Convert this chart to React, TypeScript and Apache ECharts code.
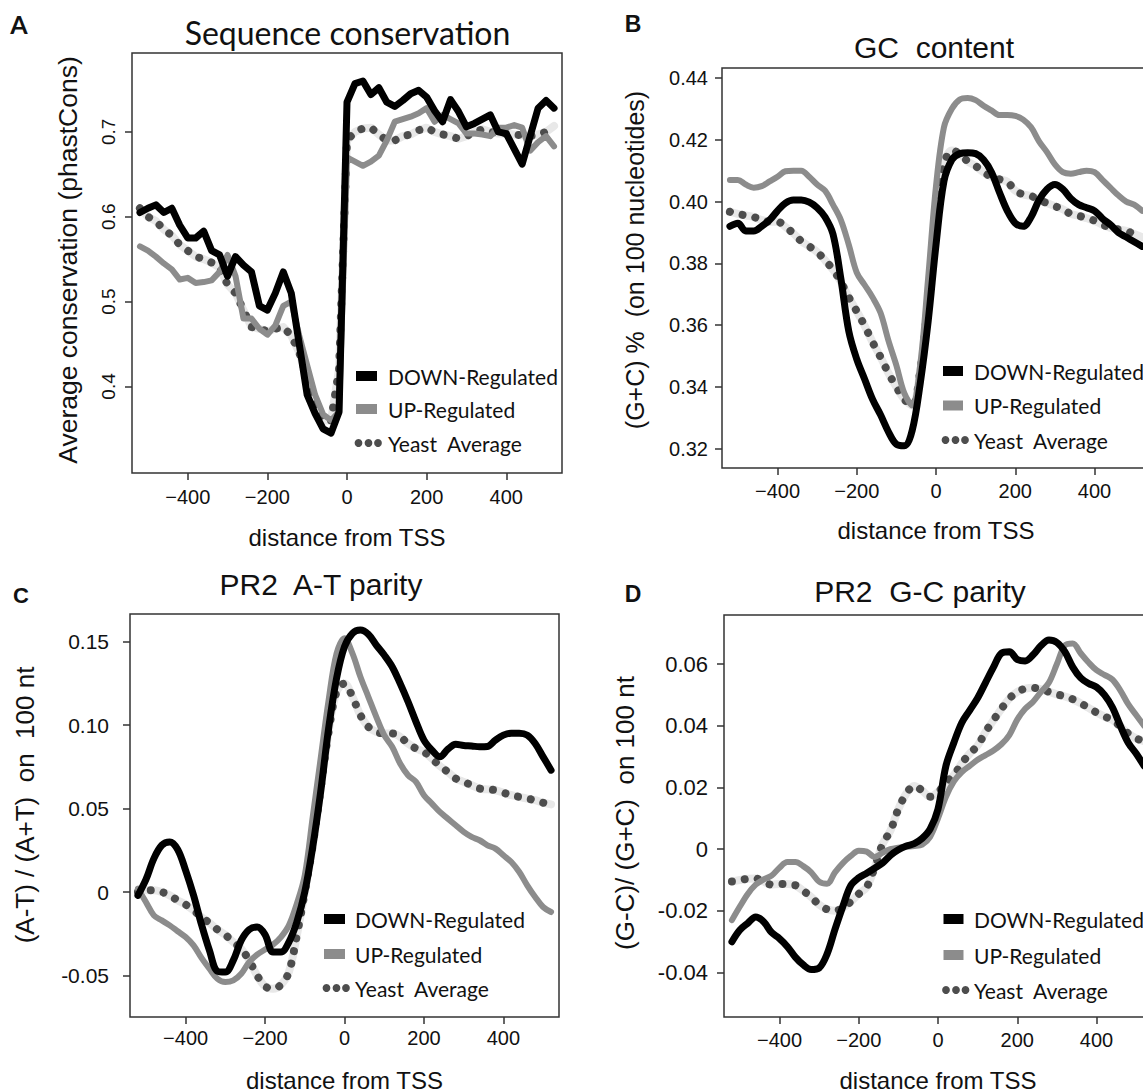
import React, { useEffect, useRef } from "react";
import * as echarts from "echarts";

// distance from TSS (bp)
const X_POS = [-520, -500, -480, -460, -440, -420, -400, -380, -360, -340, -320, -300, -280, -260, -240, -220, -200, -180, -160, -140, -120, -100, -80, -60, -40, -20, 0, 20, 40, 60, 80, 100, 120, 140, 160, 180, 200, 220, 240, 260, 280, 300, 320, 340, 360, 380, 400, 420, 440, 460, 480, 500, 520];

// Panel A: sequence conservation (phastCons)
const DOWN_A = [0.605, 0.61, 0.614, 0.605, 0.61, 0.59, 0.575, 0.575, 0.583, 0.56, 0.555, 0.53, 0.553, 0.543, 0.535, 0.495, 0.49, 0.51, 0.535, 0.51, 0.45, 0.39, 0.368, 0.35, 0.345, 0.37, 0.735, 0.757, 0.76, 0.744, 0.752, 0.735, 0.73, 0.737, 0.745, 0.749, 0.741, 0.725, 0.712, 0.738, 0.724, 0.706, 0.71, 0.715, 0.72, 0.7, 0.698, 0.68, 0.662, 0.695, 0.728, 0.737, 0.728];
const UP_A = [0.565, 0.56, 0.553, 0.545, 0.538, 0.526, 0.528, 0.522, 0.523, 0.525, 0.535, 0.555, 0.53, 0.48, 0.48, 0.468, 0.461, 0.472, 0.495, 0.5, 0.46, 0.425, 0.39, 0.367, 0.36, 0.37, 0.67, 0.665, 0.66, 0.665, 0.672, 0.69, 0.712, 0.715, 0.718, 0.722, 0.728, 0.712, 0.72, 0.715, 0.71, 0.698, 0.698, 0.697, 0.695, 0.705, 0.705, 0.708, 0.705, 0.678, 0.688, 0.695, 0.683];
const YEAST_A = [0.61, 0.6, 0.595, 0.585, 0.578, 0.567, 0.56, 0.553, 0.55, 0.546, 0.54, 0.52, 0.51, 0.49, 0.47, 0.468, 0.465, 0.468, 0.47, 0.46, 0.44, 0.41, 0.38, 0.36, 0.36, 0.42, 0.69, 0.7, 0.704, 0.705, 0.697, 0.69, 0.69, 0.695, 0.697, 0.702, 0.705, 0.7, 0.697, 0.695, 0.692, 0.695, 0.7, 0.703, 0.7, 0.698, 0.698, 0.697, 0.696, 0.695, 0.697, 0.7, 0.707];

// Panel B: GC content
const DOWN_B = [0.392, 0.393, 0.3905, 0.3905, 0.392, 0.394, 0.397, 0.3995, 0.4005, 0.4005, 0.3998, 0.398, 0.395, 0.3895, 0.375, 0.358, 0.349, 0.3425, 0.336, 0.331, 0.3255, 0.3215, 0.321, 0.326, 0.341, 0.361, 0.386, 0.4065, 0.4135, 0.4155, 0.4158, 0.4155, 0.4135, 0.4095, 0.403, 0.397, 0.393, 0.392, 0.395, 0.4005, 0.404, 0.4055, 0.404, 0.401, 0.399, 0.398, 0.397, 0.3945, 0.3925, 0.39, 0.3885, 0.387, 0.3855];
const UP_B = [0.407, 0.407, 0.4055, 0.4045, 0.405, 0.4065, 0.408, 0.4098, 0.41, 0.41, 0.408, 0.4055, 0.4035, 0.399, 0.394, 0.386, 0.377, 0.373, 0.369, 0.364, 0.355, 0.347, 0.338, 0.334, 0.347, 0.375, 0.405, 0.424, 0.43, 0.433, 0.4335, 0.4328, 0.431, 0.4295, 0.428, 0.428, 0.4277, 0.4265, 0.424, 0.4195, 0.416, 0.412, 0.4095, 0.409, 0.4095, 0.41, 0.4095, 0.407, 0.4045, 0.402, 0.4, 0.399, 0.397];
const YEAST_B = [0.3967, 0.396, 0.3955, 0.395, 0.394, 0.3935, 0.3935, 0.3918, 0.3897, 0.3872, 0.3855, 0.3837, 0.381, 0.378, 0.374, 0.369, 0.3645, 0.3598, 0.3545, 0.3497, 0.3445, 0.34, 0.336, 0.334, 0.345, 0.368, 0.395, 0.412, 0.4165, 0.4155, 0.413, 0.4115, 0.4095, 0.408, 0.4072, 0.4064, 0.4035, 0.4023, 0.4018, 0.4005, 0.3995, 0.3985, 0.3975, 0.396, 0.3954, 0.3946, 0.3938, 0.3925, 0.3915, 0.391, 0.3905, 0.3895, 0.3885];

// Panel C: PR2 A-T parity
const DOWN_C = [-0.002, 0.0074, 0.02, 0.028, 0.03, 0.0255, 0.013, -0.002, -0.0195, -0.035, -0.0475, -0.048, -0.041, -0.029, -0.0225, -0.021, -0.0255, -0.036, -0.036, -0.03, -0.018, 0.0, 0.027, 0.06, 0.098, 0.128, 0.147, 0.155, 0.157, 0.1545, 0.148, 0.142, 0.135, 0.125, 0.114, 0.102, 0.091, 0.085, 0.081, 0.0855, 0.0885, 0.0878, 0.0875, 0.087, 0.0872, 0.091, 0.094, 0.0952, 0.0952, 0.094, 0.089, 0.081, 0.073];
const UP_C = [0.002, -0.006, -0.014, -0.017, -0.02, -0.0235, -0.027, -0.032, -0.0395, -0.046, -0.052, -0.054, -0.053, -0.049, -0.042, -0.0375, -0.0345, -0.0315, -0.027, -0.02, -0.007, 0.01, 0.045, 0.08, 0.115, 0.143, 0.152, 0.143, 0.129, 0.117, 0.105, 0.094, 0.087, 0.077, 0.07, 0.066, 0.058, 0.053, 0.048, 0.044, 0.04, 0.036, 0.033, 0.031, 0.028, 0.026, 0.022, 0.018, 0.012, 0.004, -0.003, -0.009, -0.012];
const YEAST_C = [0.0, 0.001, 0.001, 0.0, -0.002, -0.005, -0.0075, -0.011, -0.015, -0.0185, -0.0225, -0.0257, -0.03, -0.034, -0.041, -0.05, -0.0565, -0.058, -0.0556, -0.048, -0.026, 0.0, 0.028, 0.062, 0.096, 0.12, 0.125, 0.117, 0.106, 0.099, 0.096, 0.095, 0.095, 0.093, 0.089, 0.086, 0.084, 0.08, 0.0755, 0.072, 0.068, 0.066, 0.064, 0.062, 0.0615, 0.061, 0.0595, 0.058, 0.057, 0.056, 0.055, 0.0535, 0.0525];

// Panel D: PR2 G-C parity
const DOWN_D = [-0.03, -0.0262, -0.024, -0.022, -0.0235, -0.027, -0.029, -0.0316, -0.035, -0.0375, -0.039, -0.0385, -0.034, -0.026, -0.0185, -0.0118, -0.0093, -0.0078, -0.0062, -0.0045, -0.002, -0.0002, 0.001, 0.0018, 0.0035, 0.0065, 0.013, 0.027, 0.0345, 0.041, 0.045, 0.049, 0.054, 0.059, 0.0635, 0.064, 0.0615, 0.061, 0.063, 0.066, 0.0678, 0.067, 0.064, 0.059, 0.0555, 0.0537, 0.0525, 0.05, 0.046, 0.04, 0.0345, 0.031, 0.027];
const UP_D = [-0.023, -0.0186, -0.0145, -0.0115, -0.0098, -0.0086, -0.006, -0.0042, -0.0042, -0.0055, -0.0075, -0.0105, -0.0112, -0.0075, -0.0045, -0.0022, -0.0005, -0.0008, -0.0025, -0.0012, 0.0, 0.0005, 0.0008, 0.001, 0.0015, 0.004, 0.01, 0.017, 0.022, 0.025, 0.027, 0.029, 0.0305, 0.032, 0.034, 0.037, 0.042, 0.0455, 0.0478, 0.051, 0.054, 0.06, 0.066, 0.0667, 0.0635, 0.0605, 0.058, 0.0565, 0.055, 0.0515, 0.047, 0.0435, 0.04];
const YEAST_D = [-0.0105, -0.01, -0.0096, -0.0095, -0.0105, -0.0115, -0.0113, -0.0113, -0.0117, -0.0135, -0.0155, -0.018, -0.0195, -0.02, -0.019, -0.017, -0.0145, -0.0123, -0.006, 0.0016, 0.006, 0.013, 0.018, 0.0205, 0.019, 0.017, 0.0185, 0.0215, 0.024, 0.0278, 0.031, 0.0336, 0.038, 0.0418, 0.0455, 0.0488, 0.051, 0.052, 0.0523, 0.0518, 0.051, 0.0502, 0.0495, 0.0486, 0.0473, 0.0458, 0.0443, 0.043, 0.0419, 0.0398, 0.0375, 0.0359, 0.035];

// Tick values and labels
const X_TICKS = [-400, -200, 0, 200, 400];
const Y_TICKS_A = [0.4, 0.5, 0.6, 0.7];
const Y_LABELS_A = ["0.4", "0.5", "0.6", "0.7"];
const Y_TICKS_B = [0.32, 0.34, 0.36, 0.38, 0.4, 0.42, 0.44];
const Y_LABELS_B = ["0.32", "0.34", "0.36", "0.38", "0.40", "0.42", "0.44"];
const Y_TICKS_C = [-0.05, 0, 0.05, 0.1, 0.15];
const Y_LABELS_C = ["-0.05", "0", "0.05", "0.10", "0.15"];
const Y_TICKS_D = [-0.04, -0.02, 0, 0.02, 0.04, 0.06];
const Y_LABELS_D = ["-0.04", "-0.02", "0", "0.02", "0.04", "0.06"];

const PANEL_LETTERS = ["A", "B", "C", "D"];
const PANEL_TITLES = ["Sequence conservation", "GC  content", "PR2  A-T parity", "PR2  G-C parity"];
const Y_NAMES = ["Average conservation (phastCons)", "(G+C) %  (on 100 nucleotides)", "(A-T) / (A+T)  on  100 nt", "(G-C)/ (G+C)  on 100 nt"];
const X_NAME = "distance from TSS";
const LEGEND_NAMES = ["DOWN-Regulated", "UP-Regulated", "Yeast  Average"];

const SANS = "'Liberation Sans', Arial, sans-serif";
const INK = "#111111";
const BLACK = "#000000";
const GREY = "#8c8c8c";
const DOTS = "#4d4d4d";
const BAND = "#e8e8e8";

const PANELS = [
  {
    down: DOWN_A, up: UP_A, yeast: YEAST_A, smooth: false,
    grid: { left: 132, top: 53, width: 430, height: 420 },
    yMin: 0.298, yMax: 0.793, yTicks: Y_TICKS_A, yLabels: Y_LABELS_A,
    yRotate: 90, yFont: 19, yMargin: 14,
    yName: { x: 68, y: 260, font: "26.5px 'Liberation Sans'" },
    xMargin: 14, xNameGap: 52,
    letter: { x: 19, y: 24, font: "bold 25px Lato" },
    title: { x: 347.5, y: 32, font: "32px Lato" },
    legend: { symX: 356, symW: 21, textX: 388, rows: [376, 409, 443] },
  },
  {
    down: DOWN_B, up: UP_B, yeast: YEAST_B, smooth: 0.35,
    grid: { left: 722, top: 68, width: 428, height: 400 },
    yMin: 0.3138, yMax: 0.4432, yTicks: Y_TICKS_B, yLabels: Y_LABELS_B,
    yRotate: 0, yFont: 20, yMargin: 14,
    yName: { x: 635, y: 260, font: "25px 'Liberation Sans'" },
    xMargin: 13, xNameGap: 50,
    letter: { x: 633, y: 24, font: "bold 23px 'Liberation Sans'" },
    title: { x: 934, y: 47.5, font: "30px 'Liberation Sans'" },
    legend: { symX: 943, symW: 20, textX: 974, rows: [371, 405.5, 440] },
  },
  {
    down: DOWN_C, up: UP_C, yeast: YEAST_C, smooth: 0.35,
    grid: { left: 130, top: 614, width: 429, height: 403 },
    yMin: -0.0749, yMax: 0.1666, yTicks: Y_TICKS_C, yLabels: Y_LABELS_C,
    yRotate: 0, yFont: 21, yMargin: 21,
    yName: { x: 25, y: 805, font: "26px 'Liberation Sans'" },
    xMargin: 11, xNameGap: 51,
    letter: { x: 21, y: 595, font: "bold 22px 'Liberation Sans'" },
    title: { x: 321, y: 584, font: "30px 'Liberation Sans'" },
    legend: { symX: 324, symW: 21, textX: 355, rows: [919, 954, 988] },
  },
  {
    down: DOWN_D, up: UP_D, yeast: YEAST_D, smooth: 0.35,
    grid: { left: 724, top: 615, width: 428, height: 402 },
    yMin: -0.0544, yMax: 0.0759, yTicks: Y_TICKS_D, yLabels: Y_LABELS_D,
    yRotate: 0, yFont: 22, yMargin: 16,
    yName: { x: 625, y: 813, font: "26px 'Liberation Sans'" },
    xMargin: 13, xNameGap: 51,
    letter: { x: 633, y: 594, font: "bold 23px 'Liberation Sans'" },
    title: { x: 920, y: 591.5, font: "30px 'Liberation Sans'" },
    legend: { symX: 943.5, symW: 20, textX: 974, rows: [919, 955, 990] },
  },
];

const fmtX = (v: number) => (v < 0 ? "\u2212" + Math.abs(v) : String(v));
const pair = (vals: number[]) => X_POS.map((x, i) => [x, vals[i]]);

function buildOption() {
  const grid: any[] = [];
  const xAxis: any[] = [];
  const yAxis: any[] = [];
  const series: any[] = [];
  const graphic: any[] = [];

  PANELS.forEach((p, i) => {
    grid.push({
      ...p.grid,
      show: true,
      borderColor: "#333333",
      borderWidth: 1.5,
      backgroundColor: "transparent",
      containLabel: false,
      outerBoundsMode: "none",
    });
    xAxis.push({
      type: "value",
      gridIndex: i,
      min: -540,
      max: 540,
      axisLine: { show: false, onZero: false },
      splitLine: { show: false },
      axisTick: { show: true, length: 7, lineStyle: { color: "#333333", width: 1.5 }, customValues: X_TICKS },
      axisLabel: { customValues: X_TICKS, formatter: fmtX, fontSize: 20, fontFamily: SANS, color: INK, margin: p.xMargin },
      name: X_NAME,
      nameLocation: "middle",
      nameGap: p.xNameGap,
      nameMoveOverlap: false,
      nameTextStyle: { fontSize: 24, fontFamily: SANS, color: INK },
    });
    const ticks = p.yTicks;
    const labels = p.yLabels;
    yAxis.push({
      type: "value",
      gridIndex: i,
      min: p.yMin,
      max: p.yMax,
      axisLine: { show: false, onZero: false },
      splitLine: { show: false },
      axisTick: { show: true, length: 7, lineStyle: { color: "#333333", width: 1.5 }, customValues: ticks },
      axisLabel: {
        customValues: ticks,
        rotate: p.yRotate,
        formatter: (v: number) => {
          const k = ticks.findIndex((t) => Math.abs(t - v) < 1e-9);
          return k >= 0 ? labels[k] : "";
        },
        fontSize: p.yFont,
        fontFamily: SANS,
        color: INK,
        margin: p.yMargin,
      },
    });

    const common = {
      type: "line",
      xAxisIndex: i,
      yAxisIndex: i,
      symbol: "none",
      showSymbol: false,
      silent: true,
      smooth: p.smooth,
      clip: true,
    };
    series.push({ ...common, name: LEGEND_NAMES[2] + " band", data: pair(p.yeast), z: 1, lineStyle: { color: BAND, width: 8, cap: "round", join: "round" } });
    series.push({ ...common, name: LEGEND_NAMES[2], data: pair(p.yeast), z: 2, lineStyle: { color: DOTS, width: 8, type: [0.01, 13], cap: "round" } });
    series.push({ ...common, name: LEGEND_NAMES[1], data: pair(p.up), z: 3, lineStyle: { color: GREY, width: 6, cap: "round", join: "round" } });
    series.push({ ...common, name: LEGEND_NAMES[0], data: pair(p.down), z: 4, lineStyle: { color: BLACK, width: 7, cap: "round", join: "round" } });

    // panel letter, title, y-axis title
    graphic.push({ type: "text", x: p.letter.x, y: p.letter.y, style: { text: PANEL_LETTERS[i], font: p.letter.font, fill: INK, align: "center", verticalAlign: "middle" } });
    graphic.push({ type: "text", x: p.title.x, y: p.title.y, style: { text: PANEL_TITLES[i], font: p.title.font, fill: INK, align: "center", verticalAlign: "middle" } });
    graphic.push({ type: "text", x: p.yName.x, y: p.yName.y, rotation: Math.PI / 2, style: { text: Y_NAMES[i], font: p.yName.font, fill: INK, align: "center", verticalAlign: "middle" } });

    // legend
    const lg = p.legend;
    graphic.push({ type: "rect", shape: { x: lg.symX, y: lg.rows[0] - 5, width: lg.symW, height: 10 }, style: { fill: BLACK } });
    graphic.push({ type: "rect", shape: { x: lg.symX, y: lg.rows[1] - 5, width: lg.symW, height: 10 }, style: { fill: GREY } });
    [2.5, 12.5, 22].forEach((dx) => {
      graphic.push({ type: "circle", shape: { cx: lg.symX + dx, cy: lg.rows[2], r: 3.9 }, style: { fill: DOTS } });
    });
    LEGEND_NAMES.forEach((nm, k) => {
      graphic.push({ type: "text", x: lg.textX, y: lg.rows[k], style: { text: nm, font: "21px Lato", fill: INK, align: "left", verticalAlign: "middle" } });
    });
  });

  return {
    animation: false,
    backgroundColor: "#ffffff",
    grid,
    xAxis,
    yAxis,
    series,
    graphic,
  };
}

export default function App() {
  const ref = useRef<HTMLDivElement>(null);
  useEffect(() => {
    if (!ref.current) return;
    const chart = echarts.init(ref.current, null, { renderer: "svg" });
    chart.setOption(buildOption() as any);
    return () => chart.dispose();
  }, []);
  return (
    <div
      ref={ref}
      style={{ position: "absolute", left: 0, top: 0, width: 1143, height: 1092, background: "#ffffff" }}
    />
  );
}
